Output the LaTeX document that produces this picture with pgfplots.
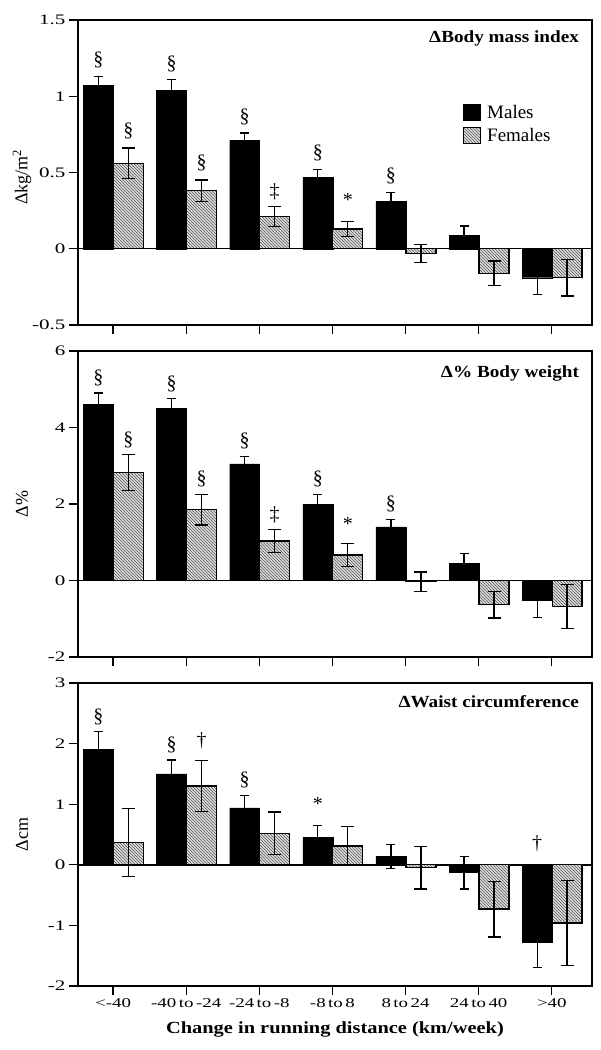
\documentclass[border=0pt]{standalone}
\usepackage{pgfplots}
\usepackage{pgfplotstable}
\pgfplotsset{compat=1.18}
\usetikzlibrary{patterns}
\usepackage{fontspec}
\setmainfont{Liberation Serif}
\newfontfamily\plainserif{Liberation Serif}
\newfontfamily\tickfont[FakeStretch=1.45]{Liberation Serif}
\newfontfamily\xtickfont[FakeStretch=1.4]{Liberation Serif}
\newfontfamily\titlefont[FakeStretch=1.13]{Liberation Serif}
\newfontfamily\xlabfont[FakeStretch=1.2]{Liberation Serif}
\newcommand\wsp{\hspace{2.5pt}}

% BMI
\pgfplotstableread{
x y e
-0.2 1.07 0.06
0.8 1.04 0.07
1.8 0.71 0.05
2.8 0.47 0.05
3.8 0.31 0.06
4.8 0.09 0.06
5.8 -0.19 0.11
}\bmiM
\pgfplotstableread{
x y e
0.21 0.56 0.10
1.21 0.38 0.07
2.21 0.21 0.065
3.21 0.13 0.05
4.21 -0.03 0.06
5.21 -0.16 0.08
6.21 -0.19 0.12
}\bmiF
% Body weight
\pgfplotstableread{
x y e
-0.2 4.60 0.30
0.8 4.50 0.25
1.8 3.05 0.20
2.8 2.00 0.25
3.8 1.40 0.20
4.8 0.45 0.25
5.8 -0.52 0.45
}\bwM
\pgfplotstableread{
x y e
0.21 2.82 0.47
1.21 1.85 0.40
2.21 1.03 0.30
3.21 0.67 0.30
4.21 -0.03 0.25
5.21 -0.63 0.35
6.21 -0.68 0.57
}\bwF
% Waist
\pgfplotstableread{
x y e
-0.2 1.90 0.30
0.8 1.50 0.23
1.8 0.94 0.20
2.8 0.45 0.20
3.8 0.14 0.20
4.8 -0.13 0.27
5.8 -1.28 0.42
}\wcM
\pgfplotstableread{
x y e
0.21 0.37 0.56
1.21 1.30 0.42
2.21 0.52 0.35
3.21 0.31 0.32
4.21 -0.05 0.35
5.21 -0.73 0.46
6.21 -0.96 0.70
}\wcF

\newcommand\sig[4]{\node[font=\plainserif\fontsize{20}{20}\selectfont, inner sep=0pt, yshift=#3] at (axis cs:#1,#2) {#4};}

\pgfplotsset{
  panel/.style={
    scale only axis, width=514pt,
    xmin=-0.48, xmax=6.55,
    xtick={0,...,6},
    tick pos=left, tick align=outside, major tick length=9pt,
    tick style={line width=1.3pt, black},
    axis line style={line width=1.4pt},
    yticklabel style={font=\tickfont\fontsize{14.5}{14.5}\selectfont},
    xticklabel style={font=\xtickfont\fontsize{13.5}{13.5}\selectfont},
    every axis y label/.style={at={(axis description cs:-0.109,0.5)}, rotate=90, anchor=center, font=\plainserif\fontsize{18}{18}\selectfont},
    /pgf/number format/assume math mode=true,
    clip=false,
  },
  mbar/.style={ybar, bar shift=0pt, bar width=0.41, fill=black, draw=black, forget plot,
    error bars/.cd, y dir=both, y explicit,
    error bar style={line width=1.3pt, black},
    error mark options={rotate=90, line width=1.3pt, black, mark size=4.5pt}},
  fbar/.style={ybar, bar shift=0pt, bar width=0.41, fill=gray!25, draw=black, line width=1.3pt,
    postaction={pattern=north west lines, pattern color=gray!65!black}, forget plot,
    error bars/.cd, y dir=both, y explicit,
    error bar style={line width=1.3pt, black},
    error mark options={rotate=90, line width=1.3pt, black, mark size=6.5pt}},
  zline/.style={black, line width=1.4pt, forget plot},
}

\newcommand\thickLB{\draw[line width=2.4pt] (rel axis cs:0,1) -- (rel axis cs:0,0) -- (rel axis cs:1,0);}
\newcommand\ptitle[2]{\node[anchor=east, font=\titlefont\bfseries\fontsize{17}{17}\selectfont, inner sep=0pt] at (rel axis cs:0.975,#1) {#2};}

\begin{document}
\begin{tikzpicture}
\useasboundingbox (0,0) rectangle (601pt,-1050pt);

% ---------- Top: BMI ----------
\begin{axis}[panel, at={(78pt,-325pt)}, anchor=south west, height=305pt,
  ymin=-0.5, ymax=1.5, ytick={-0.5,0,0.5,1,1.5}, yticklabels={-0.5,0,0.5,1,1.5},
  xticklabels={},
  every axis y label/.append style={at={(axis description cs:-0.109,0.485)}},
  ylabel={Δkg/m\textsuperscript{2}},
  legend cell align=left,
  legend style={at={(rel axis cs:0.749,0.728)}, anchor=north west, draw=none, fill=none,
    font=\plainserif\fontsize{19}{19}\selectfont, row sep=4pt, inner sep=0pt,
    /tikz/every odd column/.style={column sep=4pt}},
]
\addplot[zline] coordinates {(-0.48,0) (6.55,0)};
\addplot[mbar] table[x=x, y=y, y error=e] {\bmiM};
\addplot[fbar] table[x=x, y=y, y error=e] {\bmiF};
\addlegendimage{legend image code/.code={\draw[fill=black] (0pt,-8pt) rectangle (17pt,8pt);}}
\addlegendentry{Males}
\addlegendimage{legend image code/.code={\draw[line width=1pt, fill=gray!25, postaction={pattern=north west lines, pattern color=gray!65!black}] (0pt,-8pt) rectangle (17pt,8pt);}}
\addlegendentry{Females}
\thickLB
\ptitle{0.938}{ΔBody mass index}
\sig{-0.2}{1.13}{16pt}{§}
\sig{0.8}{1.11}{16pt}{§}
\sig{1.8}{0.76}{16pt}{§}
\sig{2.8}{0.52}{16pt}{§}
\sig{3.8}{0.37}{16pt}{§}
\sig{0.21}{0.66}{17pt}{§}
\sig{1.21}{0.45}{17pt}{§}
\sig{2.21}{0.275}{15pt}{‡}
\sig{3.21}{0.18}{21pt}{*}
\end{axis}

% ---------- Middle: Body weight ----------
\begin{axis}[panel, at={(78pt,-657pt)}, anchor=south west, height=306pt,
  ymin=-2, ymax=6, ytick={-2,0,2,4,6}, yticklabels={-2,0,2,4,6},
  xticklabels={},
  ylabel={Δ\%},
]
\addplot[zline] coordinates {(-0.48,0) (6.55,0)};
\addplot[mbar] table[x=x, y=y, y error=e] {\bwM};
\addplot[fbar] table[x=x, y=y, y error=e] {\bwF};
\thickLB
\ptitle{0.928}{Δ\% Body weight}
\sig{-0.2}{4.9}{15pt}{§}
\sig{0.8}{4.75}{15pt}{§}
\sig{1.8}{3.25}{15pt}{§}
\sig{2.8}{2.25}{15pt}{§}
\sig{3.8}{1.6}{15pt}{§}
\sig{0.21}{3.29}{15pt}{§}
\sig{1.21}{2.25}{15pt}{§}
\sig{2.21}{1.33}{15pt}{‡}
\sig{3.21}{0.97}{19pt}{*}
\end{axis}

% ---------- Bottom: Waist ----------
\begin{axis}[panel, at={(78pt,-986pt)}, anchor=south west, height=303pt,
  ymin=-2, ymax=3, ytick={-2,-1,0,1,2,3}, yticklabels={-2,-1,0,1,2,3},
  xticklabels={{<-40},{-40\wsp to\wsp -24},{-24\wsp to\wsp -8},{-8\wsp to\wsp 8},{8\wsp to\wsp 24},{24\wsp to\wsp 40},{>40}},
  xlabel={Change in running distance (km/week)},
  every axis x label/.style={at={(axis description cs:0.5,-0.145)}, anchor=center, font=\xlabfont\bfseries\fontsize{17}{17}\selectfont},
  ylabel={Δcm},
]
\addplot[zline] coordinates {(-0.48,0) (6.55,0)};
\addplot[mbar] table[x=x, y=y, y error=e] {\wcM};
\addplot[fbar] table[x=x, y=y, y error=e] {\wcF};
\thickLB
\ptitle{0.937}{ΔWaist circumference}
\sig{-0.2}{2.2}{15pt}{§}
\sig{0.8}{1.73}{15pt}{§}
\sig{1.8}{1.14}{16pt}{§}
\sig{2.8}{0.65}{21pt}{*}
\sig{1.21}{1.72}{20pt}{†}
\sig{5.8}{0}{21pt}{†}
\end{axis}
\end{tikzpicture}
\end{document}
